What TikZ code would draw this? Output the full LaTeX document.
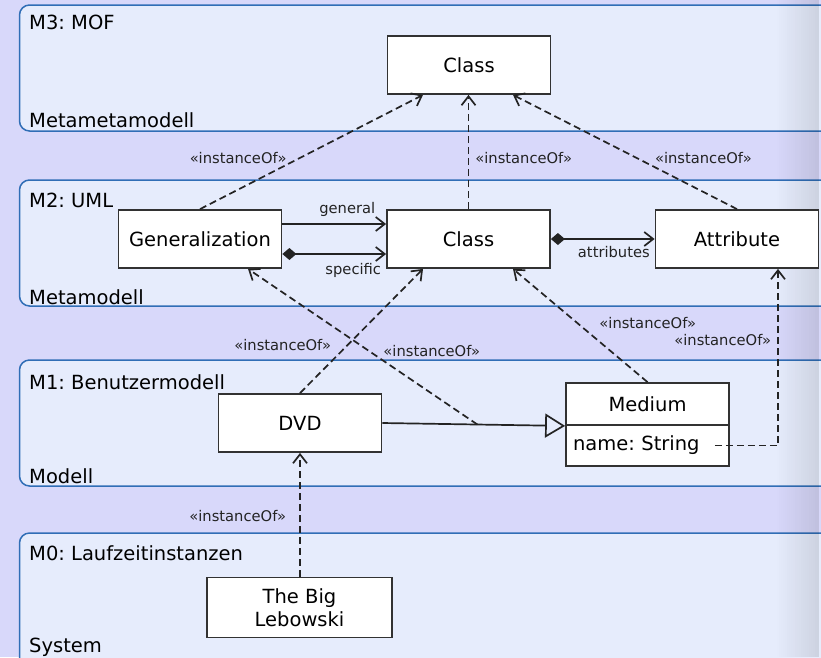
\documentclass[tikz,border=0pt]{standalone}
\usepackage{fontspec}
\setmainfont{DejaVu Sans}
\usetikzlibrary{arrows.meta,calc,positioning}
\frenchspacing

\definecolor{bandbg}{RGB}{216,216,250}
\definecolor{layerbg}{RGB}{230,236,252}
\definecolor{layerline}{RGB}{48,110,182}
\definecolor{boxline}{RGB}{50,50,50}

\begin{document}
\begin{tikzpicture}[x=1pt, y=-1pt]
    % Define styles
    \tikzstyle{layer} = [draw=layerline, fill=layerbg, line width=1.5pt, rounded corners=10pt]
    \tikzstyle{block} = [rectangle, draw=boxline, fill=white, line width=1.8pt, minimum width=163pt, minimum height=58pt, align=center, font=\fontsize{19.5}{23}\selectfont]
    \tikzstyle{title} = [anchor=west, inner sep=0pt, font=\fontsize{19.5}{23}\selectfont]
    \tikzstyle{tag} = [inner sep=0pt, font=\fontsize{14.7}{18}\selectfont]
    \tikzstyle{inst} = [boxline!70!black, line width=1.7pt, dash pattern=on 7pt off 4pt, -{Straight Barb[length=9pt, width=14pt]}]
    \tikzstyle{assoc} = [boxline!70!black, line width=1.7pt, -{Straight Barb[length=9pt, width=14pt]}]
    \tikzstyle{owns} = [boxline!70!black, line width=1.7pt, {Diamond[length=14pt, width=12pt]}-{Straight Barb[length=9pt, width=14pt]}]
    \tikzstyle{generalize} = [boxline!70!black, line width=1.7pt, -{Triangle[open, length=20pt, width=24pt]}]

    % Background
    \useasboundingbox (0,0) rectangle (821,657);
    \clip (0,0) rectangle (821,657);
    \fill[bandbg] (0,0) rectangle (821,657);

    % Layers
    \filldraw[layer] (19.5,5) rectangle (860,131);
    \filldraw[layer] (19.5,180) rectangle (860,306);
    \filldraw[layer] (19.5,360) rectangle (860,486);
    \filldraw[layer] (19.5,533) rectangle (860,700);
    % darker right edge
    \foreach \i in {0,...,21}
        \fill[black, opacity=\i*0.005] (775+\i*2,0) rectangle (777.2+\i*2,657);

    \node[title] (m3) at (29,22) {M3: MOF};
    \node[title] (m3kind) at (29,120) {Metametamodell};
    \node[title] (m2) at (29,200) {M2: UML};
    \node[title] (m2kind) at (29,297) {Metamodell};
    \node[title] (m1) at (29,382) {M1: Benutzermodell};
    \node[title] (m1kind) at (29,476) {Modell};
    \node[title] (m0) at (29,553) {M0: Laufzeitinstanzen};
    \node[title] (m0kind) at (29,647) {System};

    % Classes
    \node[block] (mofclass) at (469,65) {Class};

    \node[block] (generalization) at (200,239) {Generalization};
    \node[block] (umlclass) at (468.5,239) {Class};
    \node[block] (attribute) at (737,239) {Attribute};

    \node[block] (dvd) at (300,423) {DVD};
    \node[block, minimum height=42pt] (medium) at (647.5,404) {Medium};
    \node[block, below=-1.8pt of medium, minimum height=41pt, text width=149pt, align=left, inner xsep=7pt] (mediumattr) {name: String};

    \node[block, minimum width=185pt, minimum height=60pt] (lebowski) at (299.5,607.5) {The Big\\Lebowski};

    % M2 -> M3
    \draw[inst] (generalization.north) -- ([xshift=-46pt]mofclass.south)
        node[tag, pos=0.45, left=13pt] {«instanceOf»};
    \draw[inst] (umlclass.north) -- (umlclass.north |- mofclass.south)
        node[tag, pos=0.45, right=6pt] {«instanceOf»};
    \draw[inst] (attribute.north) -- ([xshift=44pt]mofclass.south)
        node[tag, pos=0.45, right=18pt] {«instanceOf»};

    % Associations in M2
    \draw[assoc] ([yshift=15pt]generalization.east) -- ([yshift=15pt]umlclass.west)
        node[tag, midway, above=7pt, xshift=13pt] {general};
    \draw[owns] ([yshift=-15pt]generalization.east) -- ([yshift=-15pt]umlclass.west)
        node[tag, midway, below=8pt, xshift=19pt] {specific};
    \draw[owns] (umlclass.east) -- (attribute.west)
        node[tag, at end, below left=6pt and 4pt] {attributes};

    % M1 -> M2
    \coordinate (genlink) at ($(dvd.east)!0.52!(medium.south west)$);
    \draw[generalize] (dvd.east) -- (medium.south west);
    \draw[inst] (dvd.north) -- ([xshift=-45.5pt]umlclass.south)
        node[tag, pos=0.39, left=16pt] {«instanceOf»};
    \draw[inst] (medium.north) -- ([xshift=44.5pt]umlclass.south)
        node[tag, pos=0.52, right=21pt] {«instanceOf»};
    \draw[inst] (genlink) -- ([xshift=48pt]generalization.south)
        node[tag, pos=0.47, right=13pt] {«instanceOf»};
    \draw[inst] ([xshift=-15pt]mediumattr.east) -| ([xshift=41pt]attribute.south)
        node[tag, pos=0.8, left=6pt] {«instanceOf»};

    % M0 -> M1
    \draw[inst] (dvd.south |- lebowski.north) -- (dvd.south)
        node[tag, pos=0.49, left=13pt] {«instanceOf»};

\end{tikzpicture}
\end{document}
